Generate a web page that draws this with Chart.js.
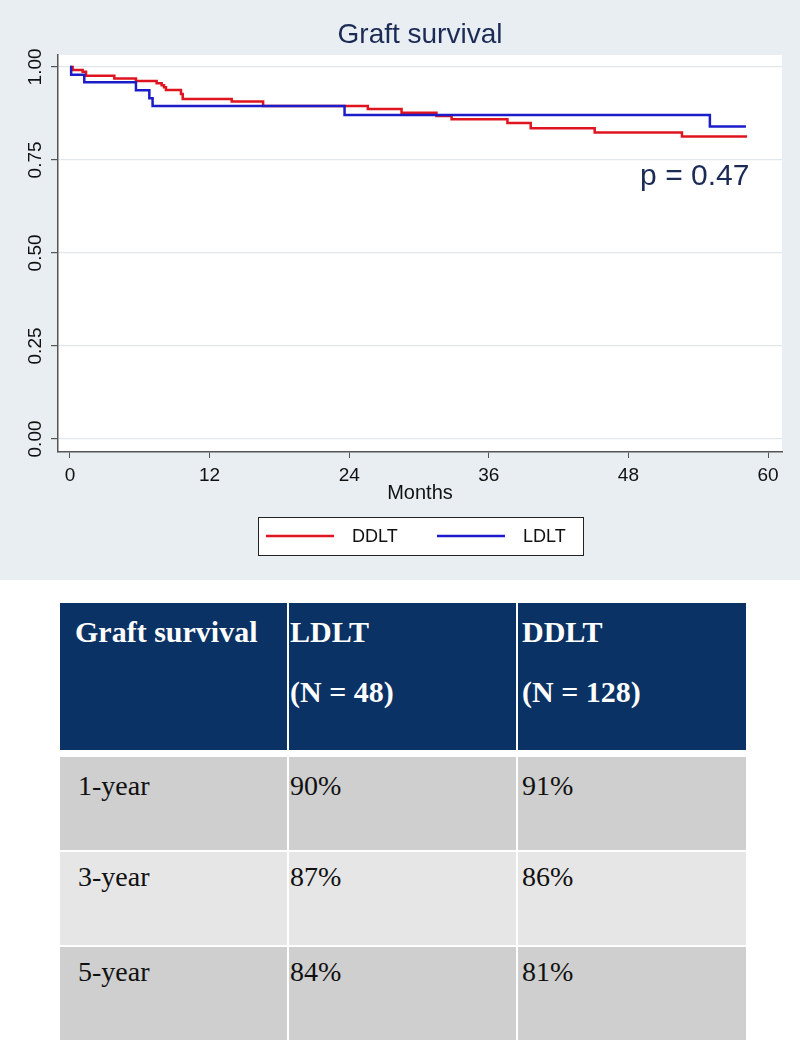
<!DOCTYPE html>
<html>
<head>
<meta charset="utf-8">
<title>Graft survival</title>
<script src="https://cdn.jsdelivr.net/npm/chart.js@4.4.0/dist/chart.umd.min.js"></script>
<style>
  body { margin: 0; width: 800px; height: 1042px; background: #fff; overflow: hidden; }
  #panel { position: absolute; left: 0; top: 0; width: 800px; height: 580px; background: #e8eef1; }
  #km { position: absolute; left: 0; top: 0; }
  #tbl {
    position: absolute; left: 58px; top: 601px;
    border-collapse: separate; border-spacing: 2px;
    font-family: 'Liberation Serif', 'Times New Roman', serif;
  }
  #tbl td { vertical-align: top; padding: 0; box-sizing: border-box; }
  #tbl thead td { background: #0b3264; color: #fff; font-weight: bold; font-size: 30px; line-height: 30px; height: 147px; padding-top: 14px; }
  #tbl tbody td { height: 93px; padding-top: 10px; color: #111; font-size: 28px; line-height: 30px; }
  #tbl tbody tr:first-child td { height: 98px; border-top: 5px solid #fff; padding-top: 14px; }
  #tbl tbody tr:nth-child(odd) td { background-color: #cfcfcf; }
  #tbl tbody tr:nth-child(even) td { background-color: #e6e6e6; }
  #tbl td.c0 { width: 227px; padding-left: 15px; }
  #tbl td.c1 { width: 227px; padding-left: 1px; }
  #tbl td.c2 { width: 228px; padding-left: 4px; }
  #tbl tbody td.c0 { padding-left: 18px; }
</style>
</head>
<body>
<div id="panel"><canvas id="km" width="800" height="580"></canvas></div>
<table id="tbl"><thead></thead><tbody></tbody></table>
<script>
// Kaplan-Meier steps (months, survival probability)
const ddltMonths = [0, 0.23, 1.09, 1.38, 3.81, 5.67, 7.45, 7.88, 8.08, 8.25, 9.54, 9.69, 13.9, 16.6, 25.6, 28.5, 31.5, 32.8, 37.6, 39.6, 45.1, 52.6, 58.2];
const ddltSurv   = [1.0, 0.992, 0.987, 0.976, 0.969, 0.962, 0.956, 0.951, 0.945, 0.938, 0.927, 0.914, 0.907, 0.895, 0.887, 0.877, 0.868, 0.859, 0.849, 0.835, 0.824, 0.813, 0.813];
const ldltMonths = [0, 0.1, 1.23, 5.67, 6.82, 7.1, 23.6, 55.0, 58.1];
const ldltSurv   = [1.0, 0.979, 0.959, 0.937, 0.916, 0.895, 0.871, 0.840, 0.840];

const seriesNames = ['DDLT', 'LDLT'];
const monthTicks = [0, 12, 24, 36, 48, 60];
const survTicks = [0, 0.25, 0.5, 0.75, 1];
const pValueText = 'p = 0.47';

// table under the chart
const tableHead = ['Graft survival', 'LDLT', 'DDLT'];
const groupSizes = [48, 128];
const tableRows = ['1-year', '3-year', '5-year'];
const ldltRates = [90, 87, 84];
const ddltRates = [91, 86, 81];

const navy = '#1c2b55';
const axisGrey = '#555';
const sansFont = "'Liberation Sans', Arial, sans-serif";

function toPoints(xs, ys) {
  return xs.map((x, i) => ({ x: x, y: ys[i] }));
}

// paint backgrounds, rotated y labels, p value and the boxed legend
const decor = {
  id: 'decor',
  beforeDraw(chart) {
    const ctx = chart.ctx, a = chart.chartArea;
    ctx.save();
    ctx.fillStyle = '#e8eef1';
    ctx.fillRect(0, 0, chart.width, chart.height);
    ctx.fillStyle = '#fff';
    ctx.fillRect(a.left, a.top, a.right - a.left, a.bottom - a.top);
    ctx.restore();
  },
  afterDraw(chart) {
    const ctx = chart.ctx, a = chart.chartArea;
    const ys = chart.scales.y, xs = chart.scales.x;
    ctx.save();

    // y tick labels, reading upward
    ctx.fillStyle = '#111';
    ctx.font = '19px ' + sansFont;
    ctx.textAlign = 'center';
    ctx.textBaseline = 'middle';
    survTicks.forEach(v => {
      ctx.save();
      ctx.translate(a.left - 22, ys.getPixelForValue(v));
      ctx.rotate(-Math.PI / 2);
      ctx.fillText(v.toFixed(2), 0, 0);
      ctx.restore();
    });

    // p value
    ctx.fillStyle = navy;
    ctx.font = '30px ' + sansFont;
    ctx.fillText(pValueText, xs.getPixelForValue(53.7), ys.getPixelForValue(0.705));

    // legend box
    const sets = chart.data.datasets;
    const boxW = 325, boxH = 38;
    const bx = Math.round((a.left + a.right) / 2 - boxW / 2);
    const by = a.bottom + 65;
    ctx.fillStyle = '#fff';
    ctx.fillRect(bx, by, boxW, boxH);
    ctx.strokeStyle = '#222';
    ctx.lineWidth = 1;
    ctx.strokeRect(bx + 0.5, by + 0.5, boxW, boxH);
    ctx.font = '18px ' + sansFont;
    ctx.textAlign = 'left';
    let cx = bx + 8;
    const cy = by + boxH / 2;
    sets.forEach(ds => {
      ctx.strokeStyle = ds.borderColor;
      ctx.lineWidth = 2.5;
      ctx.beginPath();
      ctx.moveTo(cx, cy);
      ctx.lineTo(cx + 68, cy);
      ctx.stroke();
      ctx.fillStyle = '#111';
      ctx.fillText(ds.label, cx + 86, cy + 1);
      cx += 171;
    });
    ctx.restore();
  }
};

new Chart(document.getElementById('km'), {
  type: 'line',
  data: {
    datasets: [
      {
        label: seriesNames[0],
        data: toPoints(ddltMonths, ddltSurv),
        borderColor: '#e0141e',
        borderWidth: 2.5,
        stepped: true,
        pointRadius: 0,
        fill: false,
        order: 1
      },
      {
        label: seriesNames[1],
        data: toPoints(ldltMonths, ldltSurv),
        borderColor: '#1c1cc8',
        borderWidth: 2.5,
        stepped: true,
        pointRadius: 0,
        fill: false,
        order: 0
      }
    ]
  },
  options: {
    responsive: false,
    animation: false,
    layout: { padding: { left: 58, right: 18, top: 0, bottom: 77 } },
    plugins: {
      legend: { display: false },
      tooltip: { enabled: false },
      title: {
        display: true,
        text: 'Graft survival',
        color: navy,
        font: { family: sansFont, size: 28, weight: 'normal' },
        padding: { top: 18, bottom: 3.4 }
      }
    },
    scales: {
      x: {
        type: 'linear',
        min: -1.03,
        max: 61.2,
        afterBuildTicks: s => { s.ticks = monthTicks.map(v => ({ value: v })); },
        afterFit: s => { s.height = 51; },
        grid: { drawOnChartArea: false, drawTicks: true, tickLength: 6, tickColor: axisGrey },
        border: { display: true, color: axisGrey, width: 1.5 },
        ticks: { color: '#111', font: { family: sansFont, size: 19 }, padding: 6, maxRotation: 0 },
        title: { display: true, text: 'Months', color: '#111', font: { family: sansFont, size: 20, lineHeight: 1 }, padding: 0 }
      },
      y: {
        type: 'linear',
        min: -0.035,
        max: 1.032,
        afterBuildTicks: s => { s.ticks = survTicks.map(v => ({ value: v })); },
        afterFit: s => { s.width = 0; },
        grid: { color: '#e2e7eb', lineWidth: 1.2, drawTicks: true, tickLength: 7, tickColor: axisGrey },
        border: { display: true, color: axisGrey, width: 1.5 },
        ticks: { display: false }
      }
    }
  },
  plugins: [decor]
});

// build the table from the arrays
const thead = document.querySelector('#tbl thead');
const tbody = document.querySelector('#tbl tbody');
thead.innerHTML = '<tr><td class="c0">' + tableHead[0] + '</td>' +
  '<td class="c1">' + tableHead[1] + '<br><br>(N = ' + groupSizes[0] + ')</td>' +
  '<td class="c2">' + tableHead[2] + '<br><br>(N = ' + groupSizes[1] + ')</td></tr>';
tableRows.forEach((r, i) => {
  const tr = document.createElement('tr');
  tr.innerHTML = '<td class="c0">' + r + '</td><td class="c1">' + ldltRates[i] + '%</td><td class="c2">' + ddltRates[i] + '%</td>';
  tbody.appendChild(tr);
});
</script>
</body>
</html>
